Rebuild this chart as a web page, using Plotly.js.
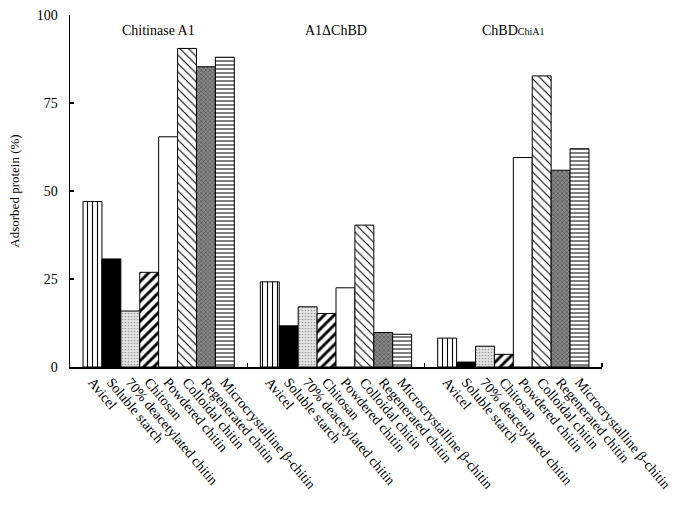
<!DOCTYPE html>
<html>
<head>
<meta charset="utf-8">
<script src="https://cdn.plot.ly/plotly-3.0.1.min.js"></script>
<style>html,body{margin:0;padding:0;background:#fff;}#chart{width:680px;height:505px;}</style>
</head>
<body>
<div id="chart"></div>
<script>
// ---- data ----
const groups = ["Chitinase A1", "A1\u0394ChBD", "ChBD<span style=\"font-size:10px\">ChiA1</span>"];
const materials = ["Avicel", "Soluble starch", "70% deacetylated chitin", "Chitosan",
                   "Powdered chitin", "Colloidal chitin", "Regenerated chitin", "Microcrystalline \u03b2-chitin"];
const chitinaseA1 = [47.0, 30.7, 15.9, 26.9, 65.4, 90.5, 85.3, 88.0];
const a1dChBD     = [24.2, 11.7, 17.1, 15.2, 22.5, 40.3, 9.8, 9.3];
const chbdChiA1   = [8.2, 1.4, 5.9, 3.6, 59.5, 82.7, 55.9, 62.0];
const yTicks = [0, 25, 50, 75, 100];

// ---- styles ----
const styles = [
  {color:'white', pattern:{shape:'|', size:5, solidity:0.22, fgcolor:'black', bgcolor:'white', fillmode:'replace'}},
  {color:'black'},
  {color:'#d6d6d6', pattern:{shape:'.', size:3, solidity:0.25, fgcolor:'#9a9a9a', bgcolor:'#e6e6e6', fillmode:'replace'}},
  {color:'white', pattern:{shape:'/', size:7, solidity:0.42, fgcolor:'black', bgcolor:'white', fillmode:'replace'}},
  {color:'white'},
  {color:'white', pattern:{shape:'\\', size:6, solidity:0.18, fgcolor:'black', bgcolor:'white', fillmode:'replace'}},
  {color:'#6e6e6e', pattern:{shape:'x', size:3, solidity:0.3, fgcolor:'#3c3c3c', bgcolor:'#8a8a8a', fillmode:'replace'}},
  {color:'white', pattern:{shape:'-', size:4, solidity:0.25, fgcolor:'black', bgcolor:'white', fillmode:'replace'}}
];

const series = [chitinaseA1, a1dChBD, chbdChiA1];
const groupX = groups.map((g, i) => i);
const bargap = 0.147;
const barW = (1 - bargap) / materials.length;

const traces = materials.map((m, k) => ({
  type: 'bar',
  name: m,
  x: groupX,
  y: series.map(s => s[k]),
  marker: Object.assign({line:{color:'black', width:1}}, styles[k]),
  hoverinfo: 'skip'
}));

const tickvals = [], ticktext = [];
groupX.forEach(g => {
  materials.forEach((m, k) => {
    tickvals.push(g + (k - (materials.length - 1) / 2) * barW);
    ticktext.push(m);
  });
});

const fontFam = 'Liberation Serif, Times New Roman, serif';

const annotations = groups.map((g, i) => ({
  x: groupX[i], y: 0.957, xref: 'x', yref: 'paper',
  text: g, showarrow: false, xanchor: 'center', yanchor: 'middle',
  font: {family: fontFam, size: 14, color: 'black'}
}));

const layout = {
  width: 680, height: 505,
  margin: {l: 70, r: 78, t: 15, b: 138},
  paper_bgcolor: 'white', plot_bgcolor: 'white',
  showlegend: false,
  barmode: 'group', bargap: bargap, bargroupgap: 0,
  font: {family: fontFam, size: 14, color: 'black'},
  xaxis: {
    range: [-0.5, 2.5],
    tickmode: 'array', tickvals: tickvals, ticktext: ticktext,
    tickangle: 50, ticks: '',
    showline: true, linecolor: 'black', linewidth: 1.5,
    showgrid: false, zeroline: false,
    tickfont: {family: fontFam, size: 14, color: 'black'},
    minor: {tickmode: 'array', tickvals: [0.5, 1.5, 2.5], ticks: 'inside', ticklen: 4, tickwidth: 1.5, tickcolor: 'black', showgrid: false}
  },
  yaxis: {
    range: [0, 100],
    tickmode: 'array', tickvals: yTicks, ticktext: yTicks.map(String),
    ticks: 'inside', ticklen: 4, tickwidth: 1.5, tickcolor: 'black',
    showline: true, linecolor: 'black', linewidth: 1.5,
    showgrid: false, zeroline: false,
    ticklabelstandoff: 8,
    tickfont: {family: fontFam, size: 14, color: 'black'},
    title: {text: 'Adsorbed protein (%)', font: {family: fontFam, size: 13, color: 'black'}, standoff: 14}
  },
  annotations: annotations
};

Plotly.newPlot('chart', traces, layout, {displayModeBar: false, staticPlot: true});
</script>
</body>
</html>
